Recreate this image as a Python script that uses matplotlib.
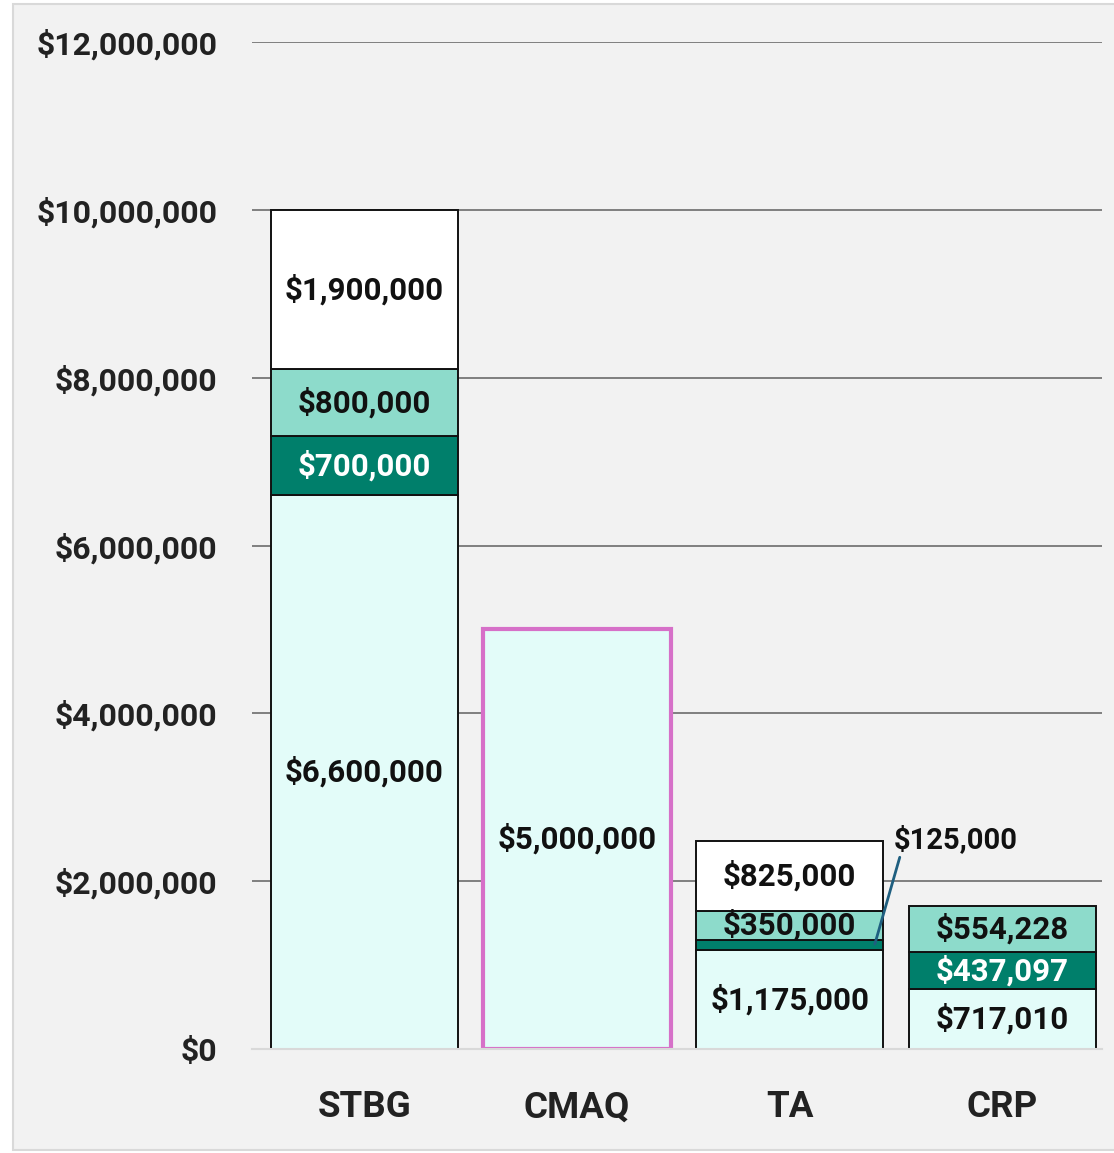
import matplotlib
matplotlib.use("Agg")
import matplotlib.pyplot as plt
from matplotlib.patches import Rectangle
import numpy as np

categories = ["STBG", "CMAQ", "TA", "CRP"]
seg1 = [6600000, 5000000, 1175000, 717010]   # light cyan base
seg2 = [700000, 0, 125000, 437097]           # dark teal
seg3 = [800000, 0, 350000, 554228]           # light teal
seg4 = [1900000, 0, 825000, 0]               # white top
yticks = [0, 2000000, 4000000, 6000000, 8000000, 10000000, 12000000]

W, H = 1114, 1153
fig = plt.figure(figsize=(W / 100, H / 100), dpi=100, facecolor="white")
fig.patches.append(Rectangle((13 / W, 1 - 1150 / H), 1.2, (1150 - 4) / H,
                             transform=fig.transFigure, facecolor="#f2f2f2",
                             edgecolor="#d9d9d9", lw=1.5, zorder=-10))

ax = fig.add_axes([252 / W, 1 - 1049 / H, (1102 - 252) / W, (1049 - 42) / H])
ax.set_zorder(5)
ax.set_facecolor("none")
ax.set_xlim(-0.528, 3.468)
ax.set_ylim(0, 12000000)

FONT = "Roboto"
x = np.arange(len(categories))
width = 0.88
colors = ["#e3fcf9", "#007f6b", "#8ddbcb", "#ffffff"]
txtcol = ["#111111", "#ffffff", "#111111", "#111111"]
segs = [seg1, seg2, seg3, seg4]
bottom = np.zeros(len(categories))
for si, (vals, c) in enumerate(zip(segs, colors)):
    vals = np.array(vals, dtype=float)
    for i in range(len(categories)):
        if vals[i] <= 0:
            continue
        edge = "#d670c8" if categories[i] == "CMAQ" else "#111111"
        lw = 3 if categories[i] == "CMAQ" else 1.4
        ax.bar(x[i], vals[i], width, bottom=bottom[i], color=c,
               edgecolor=edge, linewidth=lw, zorder=3)
        if not (categories[i] == "TA" and si == 1):
            ax.text(x[i], bottom[i] + vals[i] / 2, f"${vals[i]:,.0f}",
                    ha="center", va="center", fontsize=22.5, fontweight="bold",
                    family=FONT, color=txtcol[si], zorder=5)
    bottom += vals

# callout for TA small segment
ti = categories.index("TA")
ax.annotate(f"${seg2[ti]:,.0f}", xy=(x[ti] + 0.40, seg1[ti] + seg2[ti] * 0.6),
            xytext=(x[ti] + 0.49, 2490000), ha="left", va="center",
            fontsize=21, fontweight="bold", family=FONT, color="#111111",
            arrowprops=dict(arrowstyle="-", color="#1f5f80", lw=2,
                            shrinkA=0, shrinkB=0, relpos=(0.08, 0.4)),
            zorder=6)

ax.set_yticks(yticks)
ax.set_yticklabels([f"${v:,.0f}" for v in yticks], fontsize=23,
                   fontweight="bold", family=FONT, color="#222222")
ax.set_xticks(x)
ax.set_xticklabels(categories, fontsize=26.5, fontweight="bold",
                   family=FONT, color="#222222")
ax.tick_params(axis="y", length=0, pad=25)
ax.tick_params(axis="x", length=0, pad=29)
ax.yaxis.grid(True, color="#7f7f7f", lw=1.4, zorder=1)
ax.set_axisbelow(True)
for s in ["top", "right", "left"]:
    ax.spines[s].set_visible(False)
ax.spines["bottom"].set_color("#d9d9d9")
ax.spines["bottom"].set_linewidth(1.5)
ax.spines["bottom"].set_zorder(4)

fig.savefig("out.png", dpi=100, facecolor=fig.get_facecolor())
